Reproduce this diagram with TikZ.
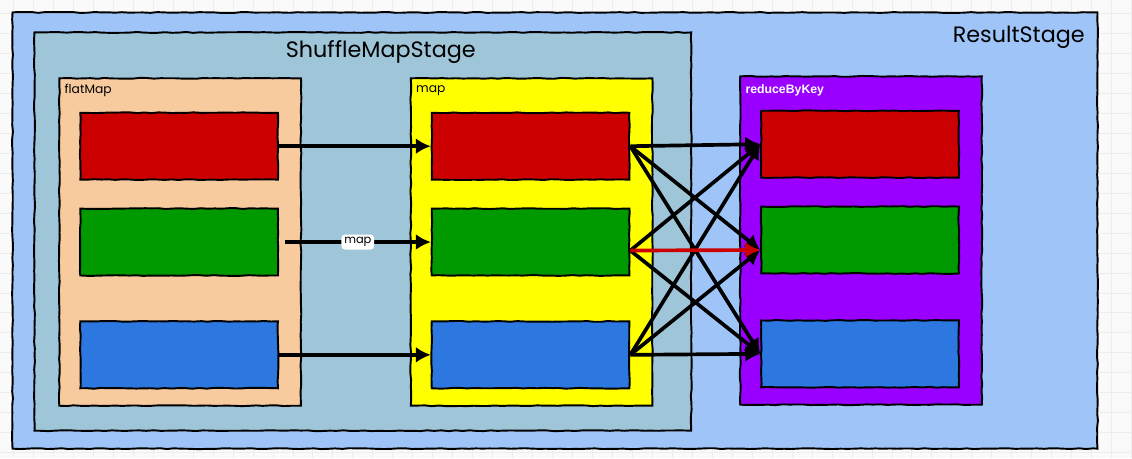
\documentclass[tikz,border=0pt]{standalone}
\usepackage{fontspec}
\setmainfont{Poppins}
\newfontfamily\keyfont{Liberation Sans}
\usetikzlibrary{arrows.meta,decorations.pathmorphing,positioning}

\definecolor{resultblue}{HTML}{9FC5F8}
\definecolor{shuffleblue}{HTML}{9EC5D8}
\definecolor{peach}{HTML}{F8CB9E}
\definecolor{opyellow}{HTML}{FFFF00}
\definecolor{oppurple}{HTML}{9900FF}
\definecolor{partred}{HTML}{CC0000}
\definecolor{partgreen}{HTML}{009900}
\definecolor{partblue}{HTML}{2C78E0}
\definecolor{paper}{HTML}{FAFAFA}
\definecolor{gridgray}{HTML}{EDEDED}

\begin{document}
\begin{tikzpicture}[x=0.02cm,y=-0.02cm,>={Latex[length=3mm,width=3.2mm]},
    decoration={random steps,segment length=4pt,amplitude=0.25pt},
    stagebox/.style={draw,line width=1.1pt,decorate},
    opbox/.style={draw,line width=1.1pt,decorate,minimum width=4.84cm,minimum height=6.56cm},
    part/.style={draw,line width=1.1pt,decorate,minimum width=3.96cm,minimum height=1.34cm},
    title/.style={font=\fontsize{12.7}{14}\selectfont,inner sep=0pt},
    oplabel/.style={font=\fontsize{7}{8}\selectfont,anchor=west,inner sep=0pt},
    tag/.style={fill=white,rounded corners=2pt,inner sep=1.6pt,font=\fontsize{6.5}{7}\selectfont},
    flow/.style={->,line width=2.1pt},
    gridline/.style={gridgray,line width=0.5pt}]
  % paper with faint grid
  \fill[paper] (0,0) rectangle (1132,458);
  \foreach \gx in {13,33,...,1133} \draw[gridline] (\gx,0) -- (\gx,458);
  \foreach \gy in {13,33,...,453} \draw[gridline] (0,\gy) -- (1132,\gy);
  \useasboundingbox (0,0) rectangle (1132,458);

  % stages
  \node[stagebox,fill=resultblue,minimum width=21.74cm,minimum height=8.74cm] (result) at (555.5,230.5) {};
  \node[stagebox,fill=shuffleblue,minimum width=13.16cm,minimum height=7.98cm] (shuffle) at (363,231.5) {};
  \node[title] (resulttitle) at (1020,37) {ResultStage};
  \node[title] (shuffletitle) at (381,52) {ShuffleMapStage};

  % operators
  \node[opbox,fill=peach] (flatmap) at (180,242) {};
  \node[opbox,fill=opyellow] (map) at (532,242) {};
  \node[opbox,fill=oppurple,minimum height=6.58cm] (reduce) at (862,240.5) {};
  \node[oplabel] (flatmaplabel) at (64,90) {flatMap};
  \node[oplabel] (maplabel) at (416,90) {map};
  \node[oplabel,text=white,font=\keyfont\bfseries\fontsize{7}{8}\selectfont] (reducelabel) at (746,90) {reduceByKey};

  % partitions
  \node[part,fill=partred] (fr) at (179,146) {};
  \node[part,fill=partgreen] (fg) at (179,242) {};
  \node[part,fill=partblue] (fb) at (179,355) {};
  \node[part,fill=partred] (mr) at (531,146) {};
  \node[part,fill=partgreen] (mg) at (531,242) {};
  \node[part,fill=partblue] (mb) at (531,355) {};
  \node[part,fill=partred] (rr) at (861,144) {};
  \node[part,fill=partgreen] (rg) at (861,240) {};
  \node[part,fill=partblue] (rb) at (861,354) {};

  % narrow dependencies
  \draw[flow] (fr) -- (mr);
  \draw[flow] ([xshift=0.12cm]fg.east) -- node[tag]{map} (mg);
  \draw[flow] (fb) -- (mb);

  % shuffle
  \draw[flow] (mr.east) -- (rr.west);
  \draw[flow] (mr.east) -- ([yshift=-0.2cm]rg.west);
  \draw[flow] (mr.east) -- (rb.west);
  \draw[flow] ([yshift=-0.17cm]mg.east) -- (rr.west);
  \draw[flow] ([yshift=-0.17cm]mg.east) -- (rb.west);
  \draw[flow] (mb.east) -- (rr.west);
  \draw[flow] (mb.east) -- ([yshift=-0.2cm]rg.west);
  \draw[flow] (mb.east) -- (rb.west);
  \draw[flow,partred] ([yshift=-0.17cm]mg.east) -- ([yshift=-0.2cm]rg.west);
\end{tikzpicture}
\end{document}
